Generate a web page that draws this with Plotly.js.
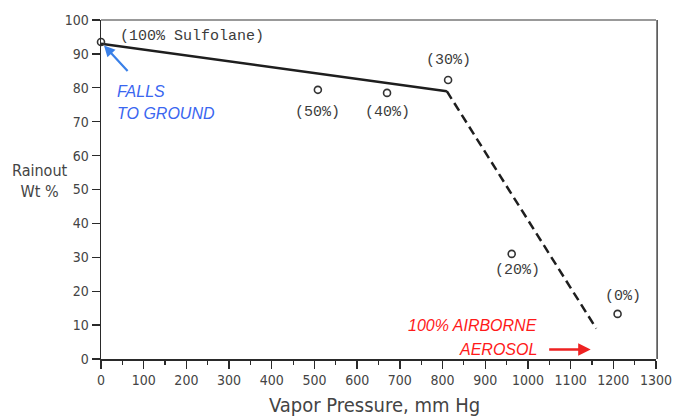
<!DOCTYPE html>
<html>
<head>
<meta charset="utf-8">
<script src="https://cdn.plot.ly/plotly-3.0.1.min.js"></script>
<style>html,body{margin:0;padding:0;background:#fff;}</style>
</head>
<body>
<div id="chart" style="width:676px;height:416px;"></div>
<script>
// Data
var vaporPressure = [0, 508, 670, 813, 962, 1210];
var rainout = [93.5, 79.4, 78.5, 82.3, 31, 13.3];
var pointLabels = ["(100% Sulfolane)", "(50%)", "(40%)", "(30%)", "(20%)", "(0%)"];
var labelX = [213, 508, 672, 813, 975, 1223];
var labelY = [95, 72.6, 72.6, 88.2, 26, 18.3];

var solidFitX = [0, 810];
var solidFitY = [93, 79];
var dashedFitX = [810, 1160];
var dashedFitY = [79, 9];

var xTicks = [0,100,200,300,400,500,600,700,800,900,1000,1100,1200,1300];
var yTicks = [0,10,20,30,40,50,60,70,80,90,100];

var narrow = 'Liberation Sans Narrow, DejaVu Sans Condensed, sans-serif';
var mono = 'Liberation Mono, DejaVu Sans Mono, monospace';
var gray = '#444';

var traces = [
  {x: solidFitX, y: solidFitY, mode: 'lines', line: {color: '#1e1e1e', width: 2.5}, hoverinfo: 'skip'},
  {x: dashedFitX, y: dashedFitY, mode: 'lines', line: {color: '#1e1e1e', width: 2.5, dash: '9px,5px'}, hoverinfo: 'skip'},
  {x: vaporPressure, y: rainout, mode: 'markers', marker: {symbol: 'circle-open', size: 7, color: '#333', line: {width: 1.6, color: '#333'}}, cliponaxis: false}
];

var annotations = pointLabels.map(function (t, i) {
  return {x: labelX[i], y: labelY[i], xref: 'x', yref: 'y', xanchor: 'center', text: t, showarrow: false,
          font: {family: mono, size: 15, color: '#3c3c3c'}};
});

annotations.push(
  {x: 33, y: 79, xref: 'x', yref: 'y', xanchor: 'left', text: '<i>FALLS</i>', showarrow: false,
   font: {family: 'Liberation Sans, Arial, sans-serif', size: 16, color: '#3a66f0'}},
  {x: 33, y: 72.4, xref: 'x', yref: 'y', xanchor: 'left', text: '<i>TO GROUND</i>', showarrow: false,
   font: {family: 'Liberation Sans, Arial, sans-serif', size: 16, color: '#3a66f0'}},
  {x: 7, y: 92.5, xref: 'x', yref: 'y', ax: 25, ay: 27, text: '', showarrow: true,
   arrowhead: 2, arrowsize: 1, arrowwidth: 2.2, arrowcolor: '#3a80e8'},
  {x: 1025, y: 9.9, xref: 'x', yref: 'y', xanchor: 'right', text: '<i>100% AIRBORNE</i>', showarrow: false,
   font: {family: 'Liberation Sans, Arial, sans-serif', size: 16, color: '#ff1a1a'}},
  {x: 1025, y: 2.8, xref: 'x', yref: 'y', xanchor: 'right', text: '<i>AEROSOL</i>', showarrow: false,
   font: {family: 'Liberation Sans, Arial, sans-serif', size: 16, color: '#ff1a1a'}},
  {x: 1147, y: 2.8, xref: 'x', yref: 'y', ax: -43, ay: 0, text: '', showarrow: true,
   arrowhead: 2, arrowsize: 1, arrowwidth: 2.5, arrowcolor: '#ee2222'},
  {x: -0.11, y: 52.5, xref: 'paper', yref: 'y', xanchor: 'center', text: 'Rainout<br>Wt %', showarrow: false,
   font: {family: narrow, size: 16, color: gray}},
  {x: 0.493, y: -0.135, xref: 'paper', yref: 'paper', xanchor: 'center', yanchor: 'middle', text: 'Vapor Pressure, mm Hg', showarrow: false,
   font: {family: narrow, size: 20, color: gray}}
);

var layout = {
  width: 676, height: 416,
  margin: {l: 101, r: 20, t: 20, b: 57},
  paper_bgcolor: '#fff', plot_bgcolor: '#fff',
  showlegend: false,
  xaxis: {range: [0, 1300], tickvals: xTicks, ticktext: xTicks.map(String), showgrid: false, zeroline: false,
          showline: true, linecolor: '#2a2a2a', linewidth: 1.5, ticks: 'outside', ticklen: 8, tickwidth: 1.3, tickcolor: '#2a2a2a',
          minor: {dtick: 50, tick0: 0, ticks: 'outside', ticklen: 4, tickwidth: 1.2, tickcolor: '#2a2a2a', showgrid: false},
          tickfont: {family: narrow, size: 14, color: gray}},
  yaxis: {range: [0, 100], tickvals: yTicks, ticktext: yTicks.map(String), showgrid: false, zeroline: false,
          showline: true, linecolor: '#2a2a2a', linewidth: 1.5, ticks: 'outside', ticklen: 8, tickwidth: 1.3, tickcolor: '#2a2a2a',
          tickfont: {family: narrow, size: 14, color: gray}},
  shapes: [
    {type: 'line', xref: 'paper', yref: 'paper', x0: 0, x1: 1, y0: 1, y1: 1, line: {color: '#777', width: 1.5}},
    {type: 'line', xref: 'paper', yref: 'paper', x0: 1.002, x1: 1.002, y0: 0, y1: 1, line: {color: '#444', width: 1.5}}
  ],
  annotations: annotations
};

Plotly.newPlot('chart', traces, layout, {displayModeBar: false, staticPlot: true});
</script>
</body>
</html>
